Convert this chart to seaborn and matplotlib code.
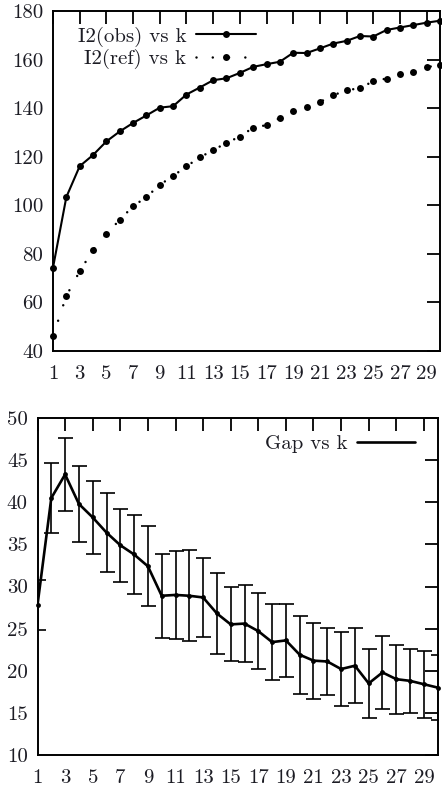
import matplotlib
matplotlib.use("Agg")
import matplotlib.pyplot as plt
import seaborn as sns
import pandas as pd

# ---------------- data ----------------
k = list(range(1, 31))
i2_obs = [74.3, 103.4, 116.1, 120.7, 126.3, 130.4, 133.9, 137.0, 140.2, 140.8,
          145.6, 148.5, 151.5, 152.3, 154.5, 157.0, 158.1, 159.1, 162.8, 162.7,
          164.6, 166.6, 167.7, 169.7, 169.5, 172.2, 173.2, 174.2, 175.2, 176.0]
i2_ref = [46.1, 62.7, 72.8, 81.6, 88.2, 94.0, 99.6, 103.4, 108.4, 112.1,
          116.0, 119.8, 122.6, 125.8, 128.2, 132.0, 133.0, 136.0, 138.7, 140.6,
          142.5, 145.3, 147.4, 148.2, 151.1, 152.2, 154.1, 154.9, 156.9, 157.7]
gap = [27.8, 40.5, 43.3, 39.8, 38.2, 36.4, 34.9, 33.8, 32.4, 28.9,
       29.0, 28.9, 28.7, 26.8, 25.5, 25.6, 24.7, 23.4, 23.6, 21.9,
       21.2, 21.1, 20.2, 20.6, 18.5, 19.8, 19.0, 18.8, 18.4, 18.0]
gap_err = [2.95, 4.1, 4.35, 4.55, 4.35, 4.65, 4.35, 4.65, 4.75, 5.0,
           5.2, 5.4, 4.65, 4.8, 4.4, 4.55, 4.55, 4.55, 4.35, 4.65,
           4.5, 4.0, 4.4, 4.45, 4.05, 4.35, 4.1, 3.8, 4.0, 3.85]

x_ticks = list(range(1, 30, 2))
top_yticks = [40, 60, 80, 100, 120, 140, 160, 180]
bot_yticks = [10, 15, 20, 25, 30, 35, 40, 45, 50]

label_obs = "I2(obs) vs k"
label_ref = "I2(ref) vs k"
label_gap = "Gap vs k"

df_top = pd.DataFrame({"k": k, "obs": i2_obs, "ref": i2_ref})
df_bot = pd.DataFrame({"k": k, "gap": gap, "err": gap_err})

# ---------------- style ----------------
sns.set_style("white")
plt.rcParams["font.family"] = ["cmr10", "DejaVu Serif"]
plt.rcParams["axes.formatter.use_mathtext"] = True
plt.rcParams["mathtext.fontset"] = "cm"
TXT = "#1c1c24"
FS = 15

fig = plt.figure(figsize=(4.42, 7.91), dpi=100)
ax1 = fig.add_axes([53 / 442, 1 - 351 / 791, (440 - 53) / 442, (351 - 11) / 791])
ax2 = fig.add_axes([37.5 / 442, 1 - 755 / 791, (437.7 - 37.5) / 442, (755 - 418) / 791])


def style_axes(ax, yticks):
    ax.set_xlim(1, 30)
    ax.set_ylim(yticks[0], yticks[-1])
    ax.set_xticks(x_ticks)
    ax.set_xticklabels([str(v) for v in x_ticks])
    ax.set_yticks(yticks)
    ax.set_yticklabels([str(v) for v in yticks])
    ax.tick_params(direction="in", length=9.5, width=1.3, color="black",
                   top=True, right=True, labelsize=FS, labelcolor=TXT)
    ax.tick_params(axis="x", pad=10)
    ax.tick_params(axis="y", pad=7)
    for s in ax.spines.values():
        s.set_linewidth(1.4)
        s.set_color("black")
        s.set_visible(True)
    ax.set_xlabel("")
    ax.set_ylabel("")
    ax.grid(False)


# ---------------- top panel ----------------
sns.lineplot(data=df_top, x="k", y="obs", ax=ax1, color="black", linewidth=1.5,
             marker="o", markersize=5.0, markeredgewidth=0, label=label_obs,
             clip_on=False, zorder=3)
sns.lineplot(data=df_top, x="k", y="ref", ax=ax1, color="black", linewidth=1.8,
             linestyle=(0, (0.01, 6.5)), dash_capstyle="round",
             marker="o", markersize=5.0, markeredgewidth=0, label=label_ref,
             clip_on=False, zorder=3)
style_axes(ax1, top_yticks)
ax1.legend(loc="upper right", bbox_to_anchor=(0.5245, 0.954), frameon=False,
           markerfirst=False, fontsize=FS, handlelength=2.9, handletextpad=0.45,
           labelspacing=0.12, borderpad=0, borderaxespad=0, numpoints=1,
           labelcolor=TXT)

# ---------------- bottom panel ----------------
sns.lineplot(data=df_bot, x="k", y="gap", ax=ax2, color="black", linewidth=1.9,
             label=label_gap, zorder=3)
ax2.errorbar(df_bot["k"], df_bot["gap"], yerr=df_bot["err"], fmt="none",
             ecolor="black", elinewidth=1.2, capsize=5.4, capthick=1.2, zorder=2)
sns.scatterplot(data=df_bot, x="k", y="gap", ax=ax2, color="black", s=12,
                linewidth=0, zorder=4, clip_on=False, legend=False)
style_axes(ax2, bot_yticks)
ax2.legend(loc="upper right", bbox_to_anchor=(0.943, 0.951), frameon=False,
           markerfirst=False, fontsize=FS, handlelength=2.8, handletextpad=0.45,
           borderpad=0, borderaxespad=0, labelcolor=TXT)

fig.savefig("out.png", dpi=100)
